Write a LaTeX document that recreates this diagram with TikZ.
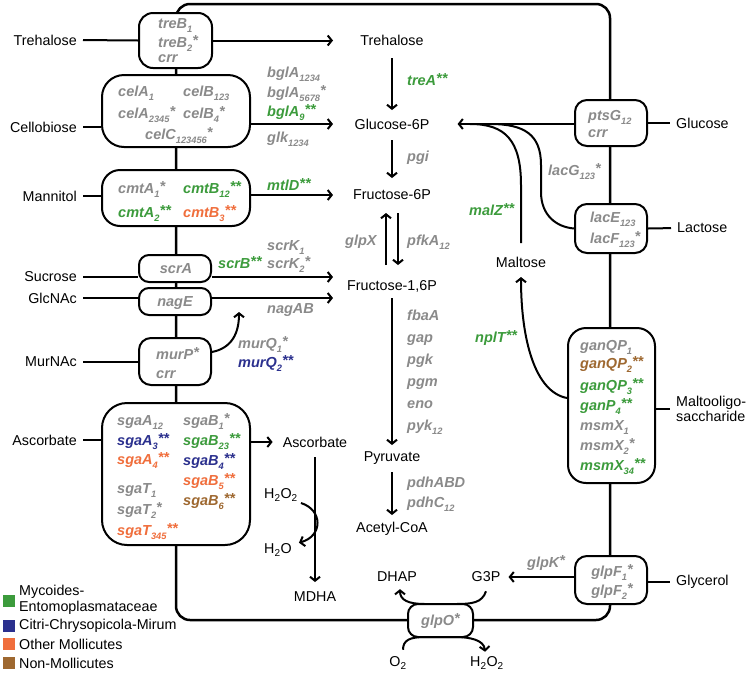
\documentclass[tikz,border=0pt]{standalone}
\usepackage{fontspec}
\setmainfont{Liberation Sans}
\usetikzlibrary{arrows.meta}
\definecolor{cgray}{RGB}{138,138,138}
\definecolor{cgreen}{RGB}{60,155,60}
\definecolor{cblue}{RGB}{43,48,142}
\definecolor{corange}{RGB}{240,110,60}
\definecolor{cbrown}{RGB}{158,104,48}
\newcommand\gsb[1]{\raisebox{-4.3pt}{\fontsize{9.3}{10}\selectfont #1}}
\newcommand\gst[1]{\raisebox{1.8pt}{#1}}
\newcommand\lblfont{\fontsize{14.3}{15.5}\selectfont}
\newcommand\genefont{\fontsize{14.5}{16}\selectfont\bfseries\itshape}
\begin{document}
\begin{tikzpicture}[x=1pt,y=-1pt,
  met/.style={inner sep=0pt,font=\lblfont,text=black},
  gene/.style={anchor=base west,inner sep=0pt,font=\genefont,text=cgray},
  genec/.style={anchor=base,inner sep=0pt,font=\genefont,text=cgray},
  tbox/.style={draw,line width=2pt,fill=white,rectangle,inner sep=0pt},
  ln/.style={line width=2pt},
  arr/.style={line width=2pt,-{Straight Barb[length=4pt,width=10pt]}},
  membrane/.style={line width=2.5pt,rounded corners=14pt},
  legsq/.style={minimum size=12pt,inner sep=0pt}]
\useasboundingbox (0,0) rectangle (750,678);
% membrane
\draw[membrane] (176,4) rectangle (610,620);
% transporter boxes
\node[tbox,minimum width=73pt,minimum height=55pt,rounded corners=14pt] (treB) at (175.5,40.5) {};
\node[tbox,minimum width=148pt,minimum height=72pt,rounded corners=22pt] (cel) at (176,111) {};
\node[tbox,minimum width=148pt,minimum height=56pt,rounded corners=18pt] (cmt) at (176,198) {};
\node[tbox,minimum width=72pt,minimum height=27pt,rounded corners=10pt] (scrA) at (175,268.5) {};
\node[tbox,minimum width=72pt,minimum height=27pt,rounded corners=10pt] (nagE) at (175,301.5) {};
\node[tbox,minimum width=72pt,minimum height=47pt,rounded corners=12pt] (murP) at (175,361.5) {};
\node[tbox,minimum width=148pt,minimum height=142pt,rounded corners=25pt] (sga) at (176,474) {};
\node[tbox,minimum width=72pt,minimum height=46pt,rounded corners=12pt] (ptsG) at (611,123) {};
\node[tbox,minimum width=72pt,minimum height=49pt,rounded corners=12pt] (lacE) at (611,228.5) {};
\node[tbox,minimum width=87pt,minimum height=155pt,rounded corners=18pt] (ganQP) at (611.5,405.5) {};
\node[tbox,minimum width=72pt,minimum height=48pt,rounded corners=12pt] (glpF) at (611,580) {};
% metabolites
\node[met] (tre) at (392,40) {Trehalose};
\node[met] (g6p) at (392,124) {Glucose-6P};
\node[met] (f6p) at (392,195) {Fructose-6P};
\node[met] (f16p) at (392,286) {Fructose-1,6P};
\node[met] (pyr) at (392,458) {Pyruvate};
\node[met] (acoa) at (392,529) {Acetyl-CoA};
\node[met] (malt) at (521,262) {Maltose};
\node[met] (asc) at (315,442) {Ascorbate};
\node[met] (h2o2a) at (281,495) {H\textsubscript{2}O\textsubscript{2}};
\node[met] (h2o) at (278,550) {H\textsubscript{2}O};
\node[met] (mdha) at (315,597) {MDHA};
\node[met] (dhap) at (397,577) {DHAP};
\node[met] (g3p) at (486,577) {G3P};
\node[met] (o2) at (398,663) {O\textsubscript{2}};
\node[met] (h2o2b) at (487,663) {H\textsubscript{2}O\textsubscript{2}};
% outside substrates
\node[met,anchor=east] (lTre) at (77,40) {Trehalose};
\node[met,anchor=east] (lCel) at (77,127) {Cellobiose};
\node[met,anchor=east] (lMan) at (77,196) {Mannitol};
\node[met,anchor=east] (lSuc) at (77,277) {Sucrose};
\node[met,anchor=east] (lGlcNAc) at (77,298) {GlcNAc};
\node[met,anchor=east] (lMur) at (77,362) {MurNAc};
\node[met,anchor=east] (lAsc) at (77,440) {Ascorbate};
\node[met,anchor=west] (rGlc) at (676,123) {Glucose};
\node[met,anchor=west] (rLac) at (677,228) {Lactose};
\node[met,anchor=west,align=left] (rMal) at (676,409) {Maltooligo-\\saccharide};
\node[met,anchor=west] (rGly) at (676,582) {Glycerol};
\coordinate (tipx) at (333,0);
% substrate lines
\draw[ln,shorten <=6pt] (lTre.east) -- (treB.west);
\draw[ln,shorten <=6pt] (lCel.east) -- (lCel.east -| cel.west);
\draw[ln,shorten <=6pt] (lMan.east) -- (lMan.east -| cmt.west);
\draw[ln,shorten <=6pt] (lSuc.east) -- (lSuc.east -| scrA.west);
\draw[ln,shorten <=6pt] (lGlcNAc.east) -- (lGlcNAc.east -| nagE.west);
\draw[ln,shorten <=6pt] (lMur.east) -- (lMur.east -| murP.west);
\draw[ln,shorten <=6pt] (lAsc.east) -- (lAsc.east -| sga.west);
\draw[ln,shorten >=6pt] (ptsG.east) -- (rGlc.west);
\draw[ln,shorten >=6pt] (lacE.east) -- (rLac.west);
\draw[ln,shorten >=6pt] (ganQP.east |- rMal.west) -- (rMal.west);
\draw[ln,shorten >=6pt] (glpF.east |- rGly.west) -- (rGly.west);
% arrows into the pathway
\draw[arr] (treB.east) -- (tipx |- treB.east);
\draw[arr] (cel.east |- g6p) -- (tipx |- g6p);
\draw[arr] (cmt.east |- f6p) -- (tipx |- f6p);
\draw[arr] (scrA.east |- lSuc) -- (tipx |- lSuc);
\draw[arr] (nagE.east |- lGlcNAc) -- (tipx |- lGlcNAc);
\coordinate (murtip) at (239,312);
\draw[arr] (murP.east |- 0,352) .. controls (232,348) and (239,333) .. (murtip);
\draw[arr,shorten >=10pt] (sga.east |- asc) -- (asc.west);
% glycolysis
\draw[arr,shorten <=18pt,shorten >=14pt] (tre.center) -- (g6p.center);
\draw[arr,shorten <=16pt,shorten >=17pt] (g6p.center) -- (f6p.center);
\draw[arr,shorten <=18pt,shorten >=21pt] ([xshift=6pt]f6p.center) -- ([xshift=6pt]f16p.center);
\draw[arr,shorten <=21pt,shorten >=18pt] ([xshift=-6pt]f16p.center) -- ([xshift=-6pt]f6p.center);
\draw[arr,shorten <=12pt,shorten >=13pt] (f16p.center) -- (pyr.center);
\draw[arr,shorten <=14pt,shorten >=14pt] (pyr.center) -- (acoa.center);
% ascorbate
\draw[arr,shorten <=15pt,shorten >=15pt] (asc.center) -- (mdha.center);
\draw[arr] ([shift={(3pt,-8pt)}]h2o2a.east) .. controls (323,510) and (323,536) .. ([shift={(7pt,1pt)}]h2o.north east);
% right side
\draw[arr,shorten >=28pt] (ptsG.west |- g6p) -- (g6p.east);
\draw[ln,shorten <=19pt] (malt.center) -- (521,185) .. controls (521,140) and (505,124) .. (470,124);
\draw[ln] (lacE.west) .. controls (556,227) and (541,215) .. (541,192) -- (541,165) .. controls (541,135) and (525,124) .. (490,124);
\draw[arr,shorten >=15pt] (ganQP.west |- 0,398) .. controls (535,392) and (521,340) .. (malt.center);
\draw[arr,shorten >=8pt] (glpF.west |- g3p) -- (g3p.east);
% glpO
\draw[arr] ([yshift=-9pt]g3p.south) .. controls (482,603) and (472,604) .. (455,604) -- (425,604) .. controls (408,604) and (400,600) .. ([shift={(3pt,-7pt)}]dhap.south);
\draw[arr] ([shift={(5pt,7pt)}]o2.north) .. controls (403,640) and (410,637) .. (425,637) -- (455,637) .. controls (470,637) and (484,640) .. ([shift={(-2pt,5pt)}]h2o2b.north);
\node[tbox,minimum width=65pt,minimum height=33pt,rounded corners=10pt] (glpO) at (440.5,620.5) {};
\node[genec] (gglpO) at (440.5,625) {glpO\gst{*}};
% gene labels in boxes
\node[gene] (gtreB1) at (158,28) {treB\gsb{1}};
\node[gene] (gtreB2) at (158,47) {treB\gsb{2}\gst{*}};
\node[gene] (gcrr1) at (158,62) {crr};
\node[gene] (gcelA1) at (118,96) {celA\gsb{1}};
\node[gene] (gcelB1) at (183,96) {celB\gsb{123}};
\node[gene] (gcelA2) at (118,118) {celA\gsb{2345}\gst{*}};
\node[gene] (gcelB2) at (183,118) {celB\gsb{4}\gst{*}};
\node[gene] (gcelC) at (145,139) {celC\gsb{123456}\gst{*}};
\node[gene] (gcmtA1) at (118,193) {cmtA\gsb{1}\gst{*}};
\node[gene,text=cgreen] (gcmtB1) at (183,193) {cmtB\gsb{12}\gst{**}};
\node[gene,text=cgreen] (gcmtA2) at (118,217) {cmtA\gsb{2}\gst{**}};
\node[gene,text=corange] (gcmtB2) at (183,217) {cmtB\gsb{3}\gst{**}};
\node[genec] (gscrA) at (176,273) {scrA};
\node[genec] (gnagE) at (175,306) {nagE};
\node[gene] (gmurP) at (156,359) {murP\gst{*}};
\node[gene] (gcrr2) at (156,378) {crr};
\node[gene] (gsgaA1) at (117,425) {sgaA\gsb{12}};
\node[gene] (gsgaB1) at (183,425) {sgaB\gsb{1}\gst{*}};
\node[gene,text=cblue] (gsgaA2) at (117,445) {sgaA\gsb{3}\gst{**}};
\node[gene,text=cgreen] (gsgaB2) at (183,445) {sgaB\gsb{23}\gst{**}};
\node[gene,text=corange] (gsgaA3) at (117,464) {sgaA\gsb{4}\gst{**}};
\node[gene,text=cblue] (gsgaB3) at (183,465) {sgaB\gsb{4}\gst{**}};
\node[gene] (gsgaT1) at (117,493) {sgaT\gsb{1}};
\node[gene,text=corange] (gsgaB4) at (183,485) {sgaB\gsb{5}\gst{**}};
\node[gene] (gsgaT2) at (117,514) {sgaT\gsb{2}\gst{*}};
\node[gene,text=cbrown] (gsgaB5) at (183,505) {sgaB\gsb{6}\gst{**}};
\node[gene,text=corange] (gsgaT3) at (117,535) {sgaT\gsb{345}\gst{**}};
\node[gene] (gptsG) at (588,120) {ptsG\gsb{12}};
\node[gene] (gcrr3) at (588,137) {crr};
\node[gene] (glacE) at (590,222) {lacE\gsb{123}};
\node[gene] (glacF) at (590,243) {lacF\gsb{123}\gst{*}};
\node[gene] (gganQP1) at (580,350) {ganQP\gsb{1}};
\node[gene,text=cbrown] (gganQP2) at (580,368) {ganQP\gsb{2}\gst{**}};
\node[gene,text=cgreen] (gganQP3) at (580,390) {ganQP\gsb{3}\gst{**}};
\node[gene,text=cgreen] (gganP4) at (580,410) {ganP\gsb{4}\gst{**}};
\node[gene] (gmsmX1) at (580,430) {msmX\gsb{1}};
\node[gene] (gmsmX2) at (580,450) {msmX\gsb{2}\gst{*}};
\node[gene,text=cgreen] (gmsmX3) at (580,470) {msmX\gsb{34}\gst{**}};
\node[genec] (gglpF1) at (612,576) {glpF\gsb{1}\gst{*}};
\node[genec] (gglpF2) at (612,595) {glpF\gsb{2}\gst{*}};
% enzyme labels
\node[gene,text=cgreen] (gtreA) at (407,85) {treA\gst{**}};
\node[gene] (gbgl1) at (267,77) {bglA\gsb{1234}};
\node[gene] (gbgl2) at (267,97) {bglA\gsb{5678}\gst{*}};
\node[gene,text=cgreen] (gbgl3) at (267,116) {bglA\gsb{9}\gst{**}};
\node[gene] (gglk) at (267,142) {glk\gsb{1234}};
\node[gene] (gpgi) at (407,161) {pgi};
\node[gene,text=cgreen] (gmtlD) at (267,190) {mtlD\gst{**}};
\node[gene] (gglpX) at (345,245) {glpX};
\node[gene] (gpfkA) at (407,245) {pfkA\gsb{12}};
\node[gene] (gscrK1) at (267,250) {scrK\gsb{1}};
\node[gene] (gscrK2) at (267,268) {scrK\gsb{2}\gst{*}};
\node[gene,text=cgreen] (gscrB) at (218,268) {scrB\gst{**}};
\node[gene] (gnagAB) at (267,313) {nagAB};
\node[gene] (gmurQ1) at (238,348) {murQ\gsb{1}\gst{*}};
\node[gene,text=cblue] (gmurQ2) at (238,367) {murQ\gsb{2}\gst{**}};
\node[gene] (gfbaA) at (407,320) {fbaA};
\node[gene] (ggap) at (407,342) {gap};
\node[gene] (gpgk) at (407,364) {pgk};
\node[gene] (gpgm) at (407,386) {pgm};
\node[gene] (geno) at (407,408) {eno};
\node[gene] (gpyk) at (407,430) {pyk\gsb{12}};
\node[gene] (gpdhA) at (407,487) {pdhABD};
\node[gene] (gpdhC) at (407,507) {pdhC\gsb{12}};
\node[gene] (glacG) at (548,175) {lacG\gsb{123}\gst{*}};
\node[gene,text=cgreen] (gmalZ) at (469,215) {malZ\gst{**}};
\node[gene,text=cgreen] (gnplT) at (475,342) {nplT\gst{**}};
\node[gene] (gglpK) at (527,567) {glpK\gst{*}};
% legend
\node[legsq,fill=cgreen] (sqG) at (9,600.5) {};
\node[met,anchor=west,align=left] (tG) at (19,600) {Mycoides-\\Entomoplasmataceae};
\node[legsq,fill=cblue] (sqB) at (9,625.5) {};
\node[met,anchor=west] (tB) at (19,626) {Citri-Chrysopicola-Mirum};
\node[legsq,fill=corange] (sqO) at (9,643.5) {};
\node[met,anchor=west] (tO) at (19,644) {Other Mollicutes};
\node[legsq,fill=cbrown] (sqN) at (9,662.5) {};
\node[met,anchor=west] (tN) at (19,663) {Non-Mollicutes};
\end{tikzpicture}
\end{document}
